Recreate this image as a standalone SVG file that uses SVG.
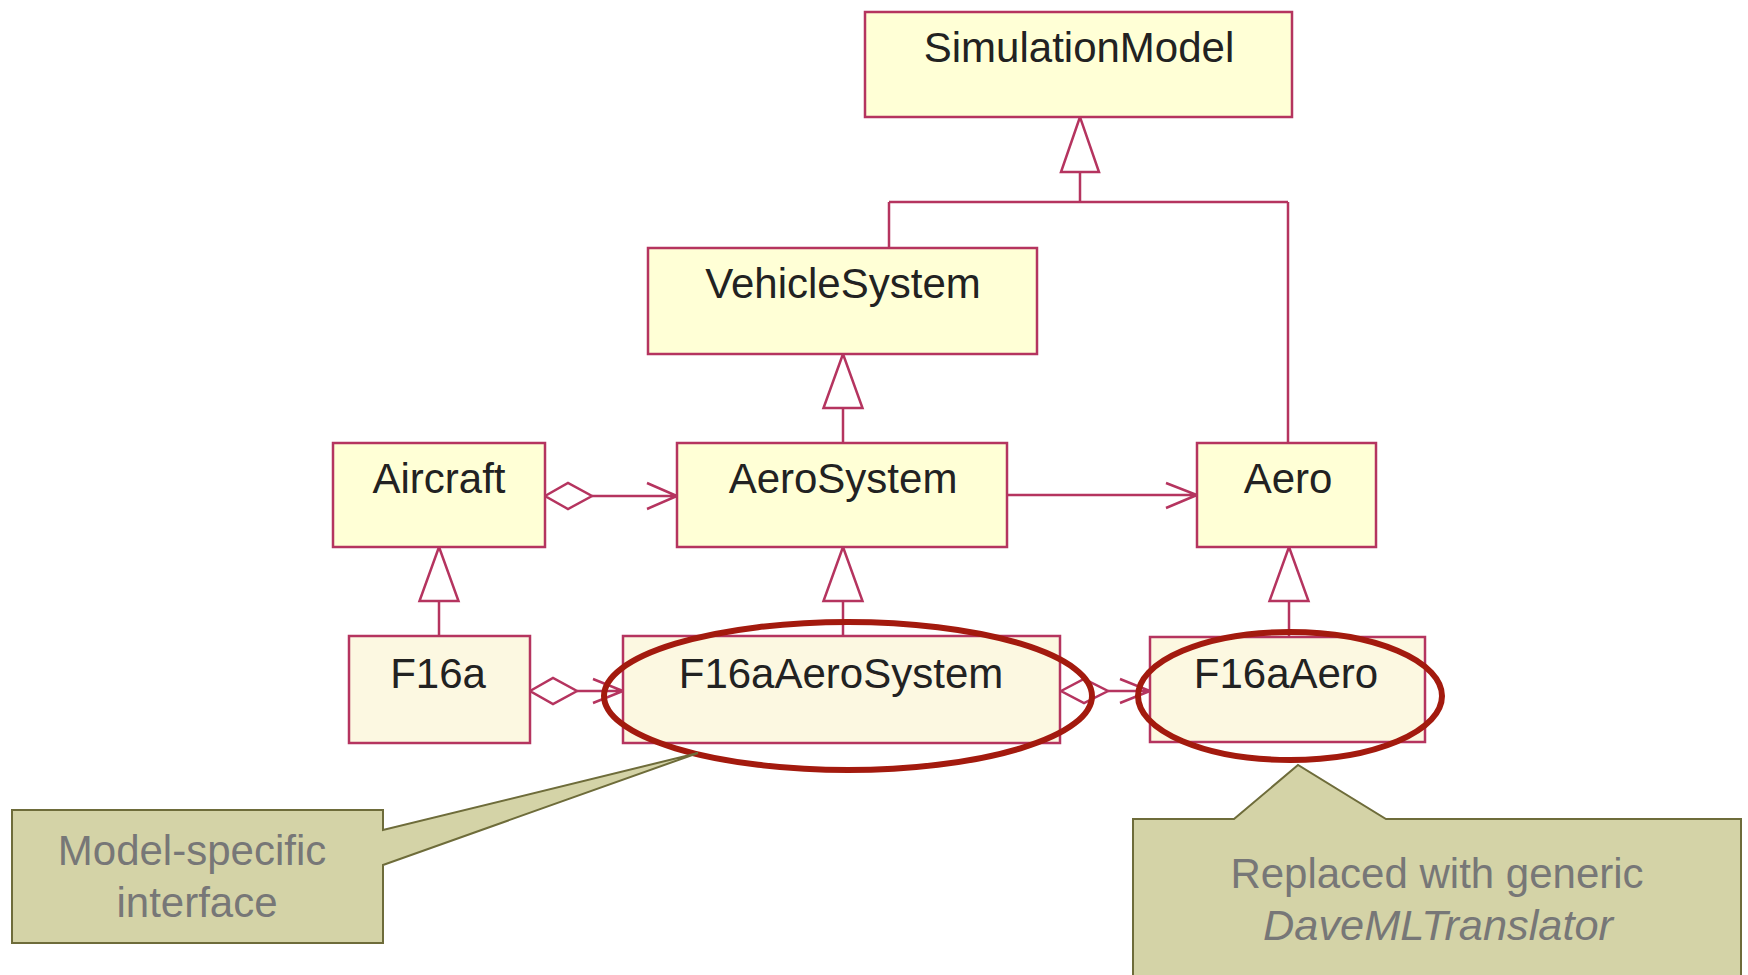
<svg xmlns="http://www.w3.org/2000/svg" width="1748" height="975" viewBox="0 0 1748 975">
<style>
.box{fill:#FFFFD6;stroke:#B5345F;stroke-width:2.5}
.box2{fill:#FCF8E1;stroke:#B5345F;stroke-width:2.5}
.lbl{font-family:"Liberation Sans",Arial,sans-serif;font-size:42px;fill:#222222;text-anchor:middle}
.ln{fill:none;stroke:#B5345F;stroke-width:2.5}
.tri{fill:#ffffff;stroke:#B5345F;stroke-width:2.5;stroke-linejoin:miter}
.ell{fill:none;stroke:#A31A0E;stroke-width:6}
.call{fill:#D4D3A7;stroke:#6E6C3A;stroke-width:2}
.ctext{font-family:"Liberation Sans",Arial,sans-serif;font-size:42px;fill:#777777;text-anchor:middle}
</style>
<rect width="1748" height="975" fill="#ffffff"/>
<g id="connectors">
  <path class="ln" d="M1080,172 V202 M889,202 H1288 M889,202 V248 M1288,202 V443"/>
  <polygon class="tri" points="1080,117 1061,172 1099,172"/>
  <path class="ln" d="M843,408 V443"/>
  <polygon class="tri" points="843,354 823.5,408 862.5,408"/>
  <path class="ln" d="M439,601 V636"/>
  <polygon class="tri" points="439,547 419.5,601 458.5,601"/>
  <path class="ln" d="M843,601 V636"/>
  <polygon class="tri" points="843,547 823.5,601 862.5,601"/>
  <path class="ln" d="M1289,601 V637"/>
  <polygon class="tri" points="1289,547 1269.5,601 1308.5,601"/>
  <polygon class="tri" points="545,496 568,483 592,496 568,509"/>
  <path class="ln" d="M592,496 H677 M647,483 L677,496 L647,509"/>
  <path class="ln" d="M1007,495 H1197 M1166,483 L1197,495 L1166,508"/>
  <polygon class="tri" points="530,691 553,678 577,691 553,704"/>
  <path class="ln" d="M577,691 H623 M593,679 L623,691 L593,703"/>
  <polygon class="tri" points="1061,691 1084,679 1108,691 1084,703"/>
  <path class="ln" d="M1108,691 H1150 M1120,679 L1150,691 L1120,703"/>
</g>
<g id="SimulationModel"><rect class="box" x="865" y="12" width="427" height="105"/><text class="lbl" x="1079" y="62">SimulationModel</text></g>
<g id="VehicleSystem"><rect class="box" x="648" y="248" width="389" height="106"/><text class="lbl" x="843" y="298">VehicleSystem</text></g>
<g id="Aircraft"><rect class="box" x="333" y="443" width="212" height="104"/><text class="lbl" x="439" y="493">Aircraft</text></g>
<g id="AeroSystem"><rect class="box" x="677" y="443" width="330" height="104"/><text class="lbl" x="843" y="493">AeroSystem</text></g>
<g id="Aero"><rect class="box" x="1197" y="443" width="179" height="104"/><text class="lbl" x="1288" y="493">Aero</text></g>
<g id="F16a"><rect class="box2" x="349" y="636" width="181" height="107"/><text class="lbl" x="438" y="688">F16a</text></g>
<g id="F16aAeroSystem"><rect class="box2" x="623" y="636" width="437" height="107"/><text class="lbl" x="841" y="688">F16aAeroSystem</text></g>
<g id="F16aAero"><rect class="box2" x="1150" y="637" width="275" height="105"/><text class="lbl" x="1286" y="688">F16aAero</text></g>
<g id="highlights">
  <ellipse class="ell" cx="848" cy="696" rx="244" ry="74"/>
  <ellipse class="ell" cx="1290" cy="696" rx="152" ry="64"/>
</g>
<g id="callout-model-specific">
  <polygon class="call" points="12,810 383,810 383,830 698,753 383,865 383,943 12,943"/>
  <text class="ctext" x="192" y="865">Model-specific</text>
  <text class="ctext" x="197" y="917">interface</text>
</g>
<g id="callout-replaced">
  <polygon class="call" points="1133,819 1234,819 1298,765 1386,819 1741,819 1741,985 1133,985"/>
  <text class="ctext" x="1437" y="888">Replaced with generic</text>
  <text class="ctext" x="1438" y="940" font-style="italic" textLength="350" lengthAdjust="spacingAndGlyphs">DaveMLTranslator</text>
</g>
</svg>
